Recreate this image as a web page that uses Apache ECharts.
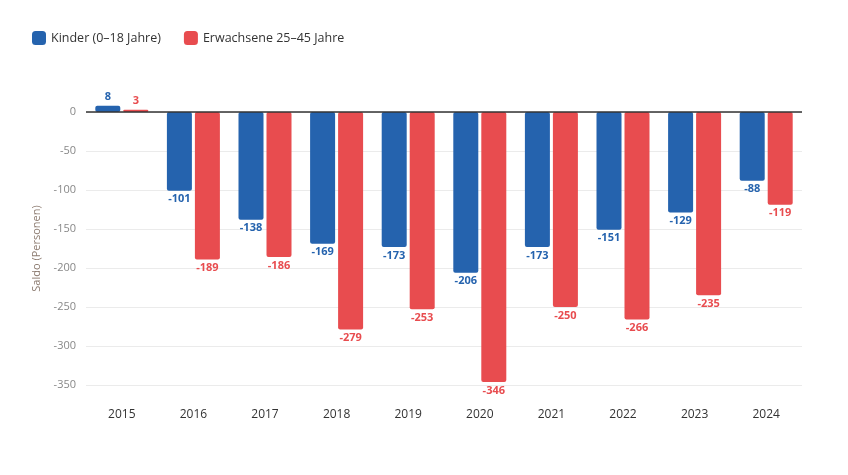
<!DOCTYPE html>
<html><head><meta charset="utf-8">
<script src="https://cdn.jsdelivr.net/npm/echarts@6/dist/echarts.min.js"></script>
<style>html,body{margin:0;padding:0;background:#fff}#c{width:848px;height:475px}</style>
</head><body><div id="c"></div>
<script>
const years = ['2015','2016','2017','2018','2019','2020','2021','2022','2023','2024'];
const kinder = [8, -101, -138, -169, -173, -206, -173, -151, -129, -88];
const erwachsene = [3, -189, -186, -279, -253, -346, -250, -266, -235, -119];
const yTicks = [0, -50, -100, -150, -200, -250, -300, -350];

const FONT = '"Open Sans", "Noto Sans", sans-serif';
const BLUE = '#2563ae', RED = '#e84c4f';
function mk(vals) {
  return vals.map(v => ({
    value: v,
    label: { position: v < 0 ? 'bottom' : 'top' }
  }));
}
const chart = echarts.init(document.getElementById('c'));
chart.setOption({
  animation: false,
  textStyle: { fontFamily: FONT },
  legend: {
    left: 27, top: 26, itemWidth: 14, itemHeight: 14, itemGap: 23,
    icon: 'roundRect',
    textStyle: { fontSize: 12.5, color: '#333', fontFamily: FONT },
    data: ['Kinder (0–18 Jahre)', 'Erwachsene 25–45 Jahre']
  },
  grid: { left: 86, right: 46, top: 112, bottom: 90, containLabel: false },
  xAxis: {
    type: 'category', data: years,
    axisLine: { show: false }, axisTick: { show: false },
    axisLabel: { margin: 24, fontSize: 12, color: '#333', fontFamily: FONT }
  },
  yAxis: {
    type: 'value', min: yTicks[yTicks.length - 1], max: yTicks[0], interval: 50,
    name: 'Saldo (Personen)', nameLocation: 'middle', nameGap: 43,
    nameTextStyle: { color: '#8c7b70', fontSize: 11, fontFamily: FONT },
    axisLabel: { color: '#888', fontSize: 11, margin: 10, fontFamily: FONT },
    splitLine: { lineStyle: { color: '#ebebeb' } },
    axisLine: { show: false }, axisTick: { show: false }
  },
  series: [
    {
      name: 'Kinder (0–18 Jahre)', type: 'bar', data: mk(kinder), barWidth: 25, barGap: '12%',
      clip: false,
      itemStyle: { color: BLUE, borderRadius: 2 },
      label: { show: true, color: BLUE, fontSize: 11, fontWeight: 'bold', distance: 3, fontFamily: FONT },
      markLine: {
        silent: true, symbol: 'none', label: { show: false },
        lineStyle: { color: '#333', width: 1.5, type: 'solid' },
        data: [{ yAxis: 0 }]
      }
    },
    {
      name: 'Erwachsene 25–45 Jahre', type: 'bar', data: mk(erwachsene), barWidth: 25,
      clip: false,
      itemStyle: { color: RED, borderRadius: 2 },
      label: { show: true, color: RED, fontSize: 11, fontWeight: 'bold', distance: 3, fontFamily: FONT }
    }
  ]
});
</script></body></html>
